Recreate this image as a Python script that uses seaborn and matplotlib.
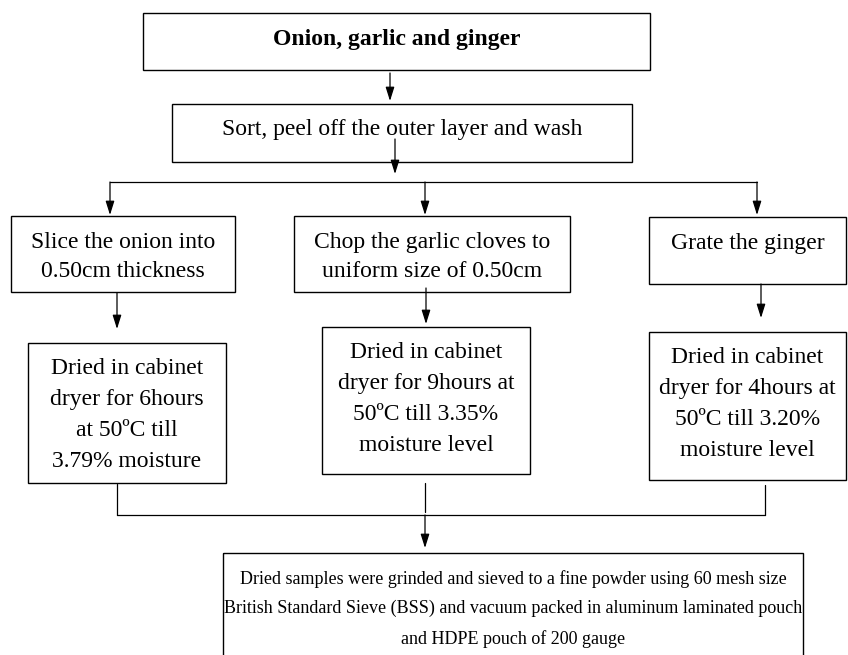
import seaborn as sns
import matplotlib.pyplot as plt
from matplotlib.patches import Rectangle

sns.set_theme(style='white')
plt.rcParams['font.family'] = ['Liberation Serif', 'DejaVu Serif']

# box texts
top_text = 'Onion, garlic and ginger'
wash_text = 'Sort, peel off the outer layer and wash'
prep_texts = ['Slice the onion into\n0.50cm thickness',
              'Chop the garlic cloves to\nuniform size of 0.50cm',
              'Grate the ginger']
dry_texts = ['Dried in cabinet\ndryer for 6hours\nat 50ºC till\n3.79% moisture',
             'Dried in cabinet\ndryer for 9hours at\n50ºC till 3.35%\nmoisture level',
             'Dried in cabinet\ndryer for 4hours at\n50ºC till 3.20%\nmoisture level']
final_text = ('Dried samples were grinded and sieved to a fine powder using 60 mesh size\n'
              'British Standard Sieve (BSS) and vacuum packed in aluminum laminated pouch\n'
              'and HDPE pouch of 200 gauge')

# layout in pixels: (x0, y0, x1, y1)
top_box = (143, 13, 650, 70)
wash_box = (172, 104, 632, 162)
prep_boxes = [(11, 216, 235, 292), (294, 216, 570, 292), (649, 217, 846, 284)]
dry_boxes = [(28, 343, 226, 483), (322, 327, 530, 474), (649, 332, 846, 480)]
final_box = (223, 553, 803, 680)

fig = plt.figure(figsize=(8.48, 6.55), dpi=100)
ax = fig.add_axes([0, 0, 1, 1])
ax.set_xlim(0, 848)
ax.set_ylim(655, 0)
ax.axis('off')

FS = 17


def box(b, text, ty=None, **kw):
    x0, y0, x1, y1 = b
    ax.add_patch(Rectangle((x0, y0), x1 - x0, y1 - y0, fill=False,
                           edgecolor='black', lw=1.0))
    if ty is None:
        ty = (y0 + y1) / 2
    ax.text((x0 + x1) / 2, ty, text, ha='center', va='center',
            fontsize=kw.pop('fontsize', FS), color='black', **kw)


def arrow(x, y0, y1):
    ax.annotate('', xy=(x, y1), xytext=(x, y0),
                arrowprops=dict(arrowstyle='-|>,head_length=0.7,head_width=0.22',
                                color='black', lw=0.9, shrinkA=0, shrinkB=0))


def line(xs, ys):
    ax.plot(xs, ys, color='black', lw=0.9)


box(top_box, top_text, ty=39, fontweight='bold')
arrow(390, 73, 101)
box(wash_box, wash_text, ty=130)
arrow(395, 139, 174)

# split to three branches
line([110, 757], [182, 182])
for x in [110, 425, 757]:
    arrow(x, 182, 215)

box(prep_boxes[0], prep_texts[0], ty=257, linespacing=1.55)
box(prep_boxes[1], prep_texts[1], ty=257, linespacing=1.55)
box(prep_boxes[2], prep_texts[2], ty=243)

arrow(117, 293, 329)
arrow(426, 288, 324)
arrow(761, 284, 318)

box(dry_boxes[0], dry_texts[0], ty=415, linespacing=1.62)
box(dry_boxes[1], dry_texts[1], ty=399, linespacing=1.62)
box(dry_boxes[2], dry_texts[2], ty=404, linespacing=1.62)

# merge
line([117, 117], [484, 515])
line([425, 425], [483, 512])
line([765, 765], [485, 515])
line([117, 765], [515, 515])
arrow(425, 515, 548)

box(final_box, final_text, ty=609, linespacing=1.9, fontsize=13)

fig.savefig('out.png', dpi=100, facecolor='white')
